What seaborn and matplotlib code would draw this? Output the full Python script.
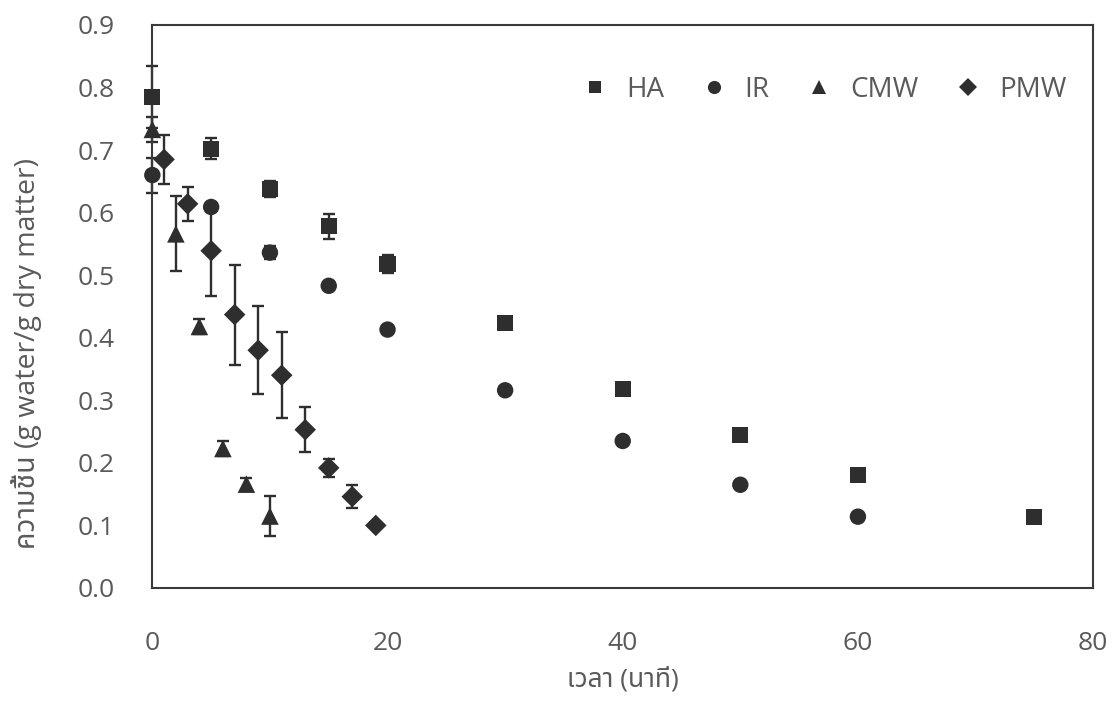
import numpy as np
import pandas as pd
import seaborn as sns
import matplotlib
matplotlib.use('Agg')
import matplotlib.pyplot as plt
from matplotlib import font_manager
from fontTools.ttLib import TTFont

# drying data
ha_t = [0, 5, 10, 15, 20, 30, 40, 50, 60, 75]
ha_mc = [0.785, 0.702, 0.638, 0.578, 0.518, 0.424, 0.318, 0.245, 0.181, 0.113]
ha_err = [0.05, 0.017, 0.013, 0.02, 0.015, 0.0, 0.0, 0.0, 0.0, 0.0]

ir_t = [0, 5, 10, 15, 20, 30, 40, 50, 60]
ir_mc = [0.660, 0.609, 0.536, 0.483, 0.413, 0.316, 0.235, 0.165, 0.114]
ir_err = [0.028, 0.0, 0.01, 0.0, 0.0, 0.0, 0.0, 0.0, 0.0]

cmw_t = [0, 2, 4, 6, 8, 10]
cmw_mc = [0.733, 0.566, 0.418, 0.223, 0.166, 0.115]
cmw_err = [0.02, 0.06, 0.012, 0.012, 0.01, 0.032]

pmw_t = [1, 3, 5, 7, 9, 11, 13, 15, 17, 19]
pmw_mc = [0.685, 0.614, 0.539, 0.437, 0.380, 0.340, 0.253, 0.192, 0.146, 0.100]
pmw_err = [0.039, 0.027, 0.072, 0.08, 0.07, 0.069, 0.036, 0.014, 0.018, 0.0]

methods = ['HA', 'IR', 'CMW', 'PMW']
marker_map = {'HA': 's', 'IR': 'o', 'CMW': '^', 'PMW': 'D'}
size_map = {'HA': 135, 'IR': 140, 'CMW': 160, 'PMW': 120}

thai_pref = ['Noto Sans Thai', 'Noto Sans Thai UI', 'Loma', 'Garuda', 'Waree',
             'Umpush', 'Sawasdee', 'Noto Sans Thai Looped', 'Kinnari', 'Norasi']


def find_thai_font():
    # pick an installed font with Thai glyphs, nicest first
    found = []
    for f in font_manager.findSystemFonts():
        try:
            cmap = TTFont(f, fontNumber=0, lazy=True).getBestCmap()
        except Exception:
            continue
        if not cmap or 0x0E27 not in cmap or 0x0E19 not in cmap:
            continue
        name = font_manager.FontProperties(fname=f).get_name()
        if name in thai_pref:
            rank = thai_pref.index(name)
        elif any(k in name for k in ['Mono', 'Type', 'Typist', 'Typo']):
            rank = 100
        else:
            rank = 50
        found.append((rank, name))
    if not found:
        return None
    found.sort()
    return found[0][1]


rows = []
for name, t, mc, err in [('HA', ha_t, ha_mc, ha_err), ('IR', ir_t, ir_mc, ir_err),
                         ('CMW', cmw_t, cmw_mc, cmw_err), ('PMW', pmw_t, pmw_mc, pmw_err)]:
    for a, b, c in zip(t, mc, err):
        rows.append({'time': a, 'mc': b, 'err': c, 'method': name})
df = pd.DataFrame(rows)

sns.set_style('white')
thai = find_thai_font()
fams = ['Open Sans']
if thai:
    fams.append(thai)
fams.append('DejaVu Sans')
plt.rcParams['font.family'] = fams

text_col = '#5a5a5a'
mark_col = '#2e2e2e'

fig = plt.figure(figsize=(11.12, 7.11), dpi=100)
ax = fig.add_axes([0.137, 0.173, 0.846, 0.792])

for name in methods:
    sub = df[df.method == name]
    sub = sub[sub.err > 0]
    ax.errorbar(sub.time, sub.mc, yerr=sub.err, fmt='none', ecolor=mark_col,
                elinewidth=1.7, capsize=4, capthick=1.7, zorder=2, clip_on=False)

sns.scatterplot(data=df, x='time', y='mc', hue='method', style='method', size='method',
                hue_order=methods, style_order=methods, size_order=methods,
                markers=marker_map, sizes=size_map, palette=[mark_col] * 4,
                edgecolor=mark_col, linewidth=0, ax=ax, zorder=3, clip_on=False)

sns.move_legend(ax, loc='center right', bbox_to_anchor=(0.998, 0.885), ncol=4,
                title=None, frameon=False, fontsize=20, markerscale=0.8,
                handlelength=1.0, columnspacing=1.3, handletextpad=0.6,
                labelcolor=text_col)

ax.set_xlim(0, 80)
ax.set_ylim(0, 0.9)
ax.set_xticks([0, 20, 40, 60, 80])
ax.set_yticks(np.arange(0, 0.91, 0.1))
ax.yaxis.set_major_formatter(matplotlib.ticker.FormatStrFormatter('%.1f'))
ax.tick_params(axis='x', length=0, pad=31, labelsize=19, labelcolor=text_col)
ax.tick_params(axis='y', length=0, pad=27, labelsize=19, labelcolor=text_col)

for sp in ax.spines.values():
    sp.set_visible(True)
    sp.set_color('#3a3a3a')
    sp.set_linewidth(1.5)

ax.set_xlabel('เวลา (นาที)', fontsize=19, color=text_col, labelpad=8)
ax.set_ylabel('ความชื้น (g water/g dry matter)', fontsize=20.5, color=text_col)
ax.yaxis.set_label_coords(-0.117, 0.417)

fig.savefig('out.png', dpi=100)
